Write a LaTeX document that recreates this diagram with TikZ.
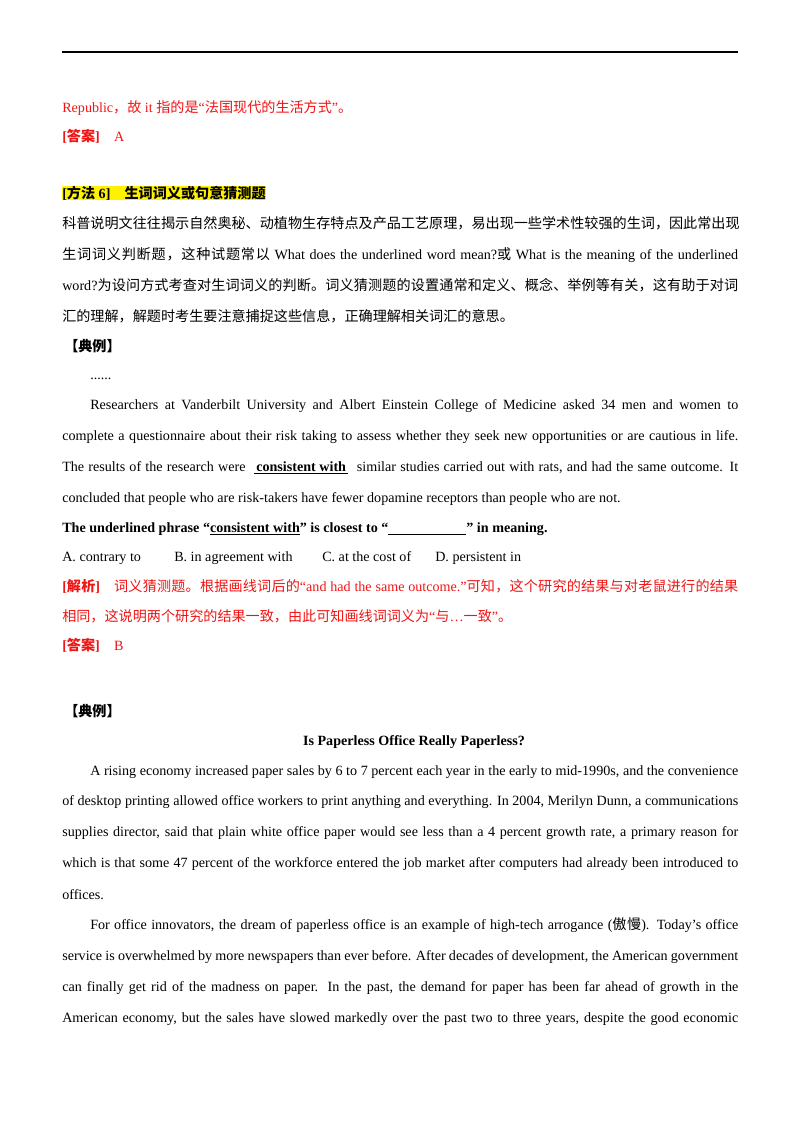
\documentclass[tikz,border=0pt]{standalone}
\usepackage{fontspec}
\setmainfont{Liberation Serif}
\newfontfamily\cjk{Noto Sans CJK SC}
\XeTeXinterchartokenstate=1
\newXeTeXintercharclass\CJKcls
\newcount\cc
\cc="4E00 \loop\XeTeXcharclass\cc=\CJKcls\advance\cc1 \ifnum\cc<"A000 \repeat
\cc="3000 \loop\XeTeXcharclass\cc=\CJKcls\advance\cc1 \ifnum\cc<"3040 \repeat
\cc="FF00 \loop\XeTeXcharclass\cc=\CJKcls\advance\cc1 \ifnum\cc<"FFF0 \repeat
\XeTeXinterchartoks 0 \CJKcls = {\cjk}
\XeTeXinterchartoks 4095 \CJKcls = {\cjk}
\XeTeXinterchartoks \CJKcls 0 = {\rmfamily}
\XeTeXinterchartoks \CJKcls 4095 = {\rmfamily}
\XeTeXinterchartoks \CJKcls \CJKcls = {\hskip0pt plus 1pt}
\newdimen\pxu \pxu=0.744pt
\definecolor{red}{RGB}{240,20,20}
\tikzset{ln/.style={anchor=base west,inner sep=0pt,font=\fontsize{10.5}{12}\selectfont}}
\newcommand{\J}[5]{\node[ln,#5] (#1) at (#2,#3) {\makebox[#4\pxu][s]{\strut #5 ##}};}
\begin{document}
\begin{tikzpicture}[x=0.744pt,y=-0.744pt]
\useasboundingbox (0,0) rectangle (800,1132);
\draw[line width=1.2pt] (62,52) coordinate (r1) -- (738,52) coordinate (r2);
\node[ln,text=red] (a1) at (62,112) {Republic，故 it 指的是“法国现代的生活方式”。};
\node[ln,text=red] (a2) at (62,141) {\textbf{[答案]}\quad A};
\node[ln,fill=yellow,font=\fontsize{10.5}{12}\selectfont\bfseries] (h) at (62,198) {[方法 6]\quad 生词词义或句意猜测题};
\node[ln] (p1) at (62,228) {\makebox[676\pxu][s]{科普说明文往往揭示自然奥秘、动植物生存特点及产品工艺原理，易出现一些学术性较强的生词，因此常出现}};
\node[ln] (p2) at (62,259) {\makebox[676\pxu][s]{生词词义判断题，这种试题常以 What does the underlined word mean?或 What is the meaning of the underlined}};
\node[ln] (p3) at (62,290) {\makebox[676\pxu][s]{word?为设问方式考查对生词词义的判断。词义猜测题的设置通常和定义、概念、举例等有关，这有助于对词}};
\node[ln] (p4) at (62,321) {汇的理解，解题时考生要注意捕捉这些信息，正确理解相关词汇的意思。};
\node[ln,font=\fontsize{10.5}{12}\selectfont\bfseries] (d1) at (64,351) {【典例】};
\node[ln] (e0) at (90,379) {......};
\node[ln] (e1) at (90,409) {\makebox[648\pxu][s]{Researchers at Vanderbilt University and Albert Einstein College of Medicine asked 34 men and women to}};
\node[ln] (e2) at (62,440) {\makebox[676\pxu][s]{complete a questionnaire about their risk taking to assess whether they seek new opportunities or are cautious in life.}};
\node[ln] (e3) at (62,471) {\makebox[676\pxu][s]{The results of the research were \ \underline{\textbf{\,consistent with\,}}\ \ similar studies carried out with rats, and had the same outcome. It}};
\node[ln] (e4) at (62,502) {concluded that people who are risk-takers have fewer dopamine receptors than people who are not.};
\node[ln,font=\fontsize{10.5}{12}\selectfont\bfseries] (q) at (62,532) {The underlined phrase “\underline{consistent with}” is closest to “\underline{\hspace{58pt}}” in meaning.};
\node[ln] (oA) at (62,561) {A. contrary to};
\node[ln] (oB) at (174,561) {B. in agreement with};
\node[ln] (oC) at (322,561) {C. at the cost of};
\node[ln] (oD) at (435,561) {D. persistent in};
\node[ln,text=red] (j1) at (62,591) {\makebox[676\pxu][s]{\textbf{[解析]}\quad 词义猜测题。根据画线词后的“and had the same outcome.”可知，这个研究的结果与对老鼠进行的结果}};
\node[ln,text=red] (j2) at (62,621) {相同，这说明两个研究的结果一致，由此可知画线词词义为“与…一致”。};
\node[ln,text=red] (a3) at (62,650) {\textbf{[答案]}\quad B};
\node[ln,font=\fontsize{10.5}{12}\selectfont\bfseries] (d2) at (64,716) {【典例】};
\node[anchor=base,inner sep=0pt,font=\fontsize{10.5}{12}\selectfont\bfseries] (t) at (414,745) {Is Paperless Office Really Paperless?};
\node[ln] (b1) at (90,775) {\makebox[648\pxu][s]{A rising economy increased paper sales by 6 to 7 percent each year in the early to mid-1990s, and the convenience}};
\node[ln] (b2) at (62,805) {\makebox[676\pxu][s]{of desktop printing allowed office workers to print anything and everything. In 2004, Merilyn Dunn, a communications}};
\node[ln] (b3) at (62,836) {\makebox[676\pxu][s]{supplies director, said that plain white office paper would see less than a 4 percent growth rate, a primary reason for}};
\node[ln] (b4) at (62,867) {\makebox[676\pxu][s]{which is that some 47 percent of the workforce entered the job market after computers had already been introduced to}};
\node[ln] (b5) at (62,899) {offices.};
\node[ln] (c1) at (90,929) {\makebox[648\pxu][s]{For office innovators, the dream of paperless office is an example of high-tech arrogance (傲慢). Today’s office}};
\node[ln] (c2) at (62,960) {\makebox[676\pxu][s]{service is overwhelmed by more newspapers than ever before. After decades of development, the American government}};
\node[ln] (c3) at (62,991) {\makebox[676\pxu][s]{can finally get rid of the madness on paper. In the past, the demand for paper has been far ahead of growth in the}};
\node[ln] (c4) at (62,1022) {\makebox[676\pxu][s]{American economy, but the sales have slowed markedly over the past two to three years, despite the good economic}};
\end{tikzpicture}
\end{document}
